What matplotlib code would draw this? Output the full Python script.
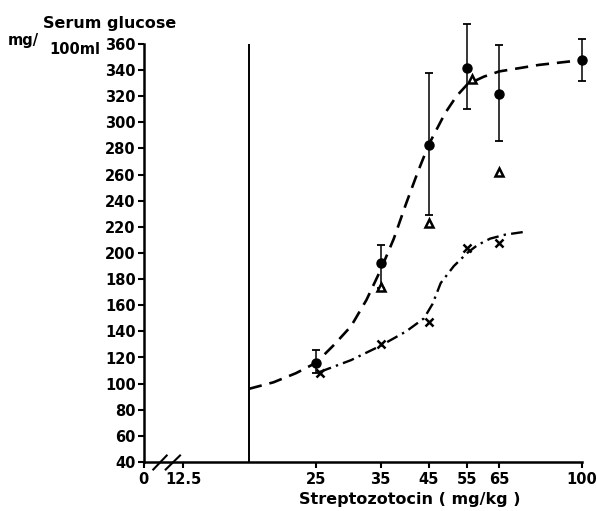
import matplotlib
matplotlib.use('Agg')
import matplotlib.pyplot as plt
from matplotlib import font_manager
import numpy as np

# font: narrow bold if available
names = {f.name for f in font_manager.fontManager.ttflist}
font = 'Liberation Sans Narrow' if 'Liberation Sans Narrow' in names else 'DejaVu Sans'
plt.rcParams['font.family'] = [font, 'DejaVu Sans']
plt.rcParams['font.weight'] = 'bold'

# data
tick_dose = [12.5, 25, 35, 45, 55, 65, 100]
tick_labels = ['12.5', '25', '35', '45', '55', '65', '100']
glucose_ticks = list(range(40, 361, 20))

mean_dose = [25, 35, 45, 55, 65, 100]
mean_glucose = [116, 192, 283, 342, 322, 348]
err_low = [108, 173, 229, 310, 286, 332]
err_high = [126, 206, 338, 375, 359, 364]

tri_dose = [35, 45, 56.3, 65]
tri_glucose = [174, 223, 333, 262]

cross_dose = [25.5, 35, 45, 55, 65]
cross_glucose = [108, 130, 147, 204, 208]

curve_a_dose = [17.6, 20, 22.5, 25, 27.5, 30, 32.5, 35, 37.5, 40, 42.5, 45, 49, 52, 55, 60, 65, 80, 96]
curve_a_glucose = [96, 101, 108, 116, 130, 144, 164, 187, 211, 238, 262, 283, 307, 320, 329, 335, 339, 344, 347]

curve_b_dose = [25.5, 30, 35, 40, 43.9, 45.9, 47.9, 51.3, 55, 58, 62, 67, 73.5]
curve_b_glucose = [109, 118, 129, 140, 150, 161, 177, 190, 200, 206, 211, 214, 216]

control_dose = 17.6
x_left = 10.15  # position of the "0" label left of the axis break

W, H = 597, 511
fig = plt.figure(figsize=(W / 100, H / 100), dpi=100)
ax = fig.add_axes([143.5 / W, (H - 462) / H, 438.2 / W, 418 / H])

ax.set_xscale('log')
ax.set_xlim(x_left, 100)
ax.set_ylim(40, 360)

ax.axvline(control_dose, color='black', lw=1.4)

ax.plot(curve_a_dose, curve_a_glucose, color='black', lw=1.9, ls=(0, (5, 3)))
ax.plot(curve_b_dose, curve_b_glucose, color='black', lw=1.7, ls=(0, (5, 2.2, 1, 2.2)))

yerr = [np.array(mean_glucose) - np.array(err_low), np.array(err_high) - np.array(mean_glucose)]
ax.errorbar(mean_dose, mean_glucose, yerr=yerr, fmt='o', color='black', ms=6.5,
            elinewidth=1.1, capsize=3, capthick=1.3, clip_on=False, zorder=4)
ax.plot(tri_dose, tri_glucose, '^', mfc='white', mec='black', mew=1.8, ms=5.5, ls='none', zorder=4)
ax.plot(cross_dose, cross_glucose, 'x', color='black', mew=1.8, ms=6, ls='none', zorder=4)

ax.set_xticks([x_left] + tick_dose)
ax.set_xticklabels(['0'] + tick_labels)
ax.xaxis.set_minor_locator(matplotlib.ticker.NullLocator())
ax.set_yticks(glucose_ticks)
ax.tick_params(axis='both', direction='out', length=4, width=1.5, labelsize=10.5, pad=1.5)
ax.tick_params(axis='x', pad=3)

for side in ['top', 'right']:
    ax.spines[side].set_visible(False)
for side in ['left', 'bottom']:
    ax.spines[side].set_linewidth(1.8)

# axis break marks
def px(xp, yp):
    return (xp - 143.5) / 438.2, (462 - yp) / 418

for x0, x1 in [(153.3, 166.7), (165.7, 180)]:
    a = px(x0, 469.5)
    b = px(x1, 455.5)
    ax.plot([a[0], b[0]], [a[1], b[1]], transform=ax.transAxes, color='black',
            lw=1.5, clip_on=False)

ax.set_xlabel('Streptozotocin ( mg/kg )', fontsize=11.5, fontweight='bold', labelpad=4)
ax.xaxis.label.set_x((410 - 143.5) / 438.2)

fig.text(110 / W, 1 - 23 / H, 'Serum glucose', fontsize=11.5, ha='center', va='center')
fig.text(8 / W, 1 - 41 / H, 'mg/', fontsize=10.5, ha='left', va='center')
fig.text(49 / W, 1 - 49 / H, '100ml', fontsize=10.5, ha='left', va='center')

fig.savefig('out.png', dpi=100)
